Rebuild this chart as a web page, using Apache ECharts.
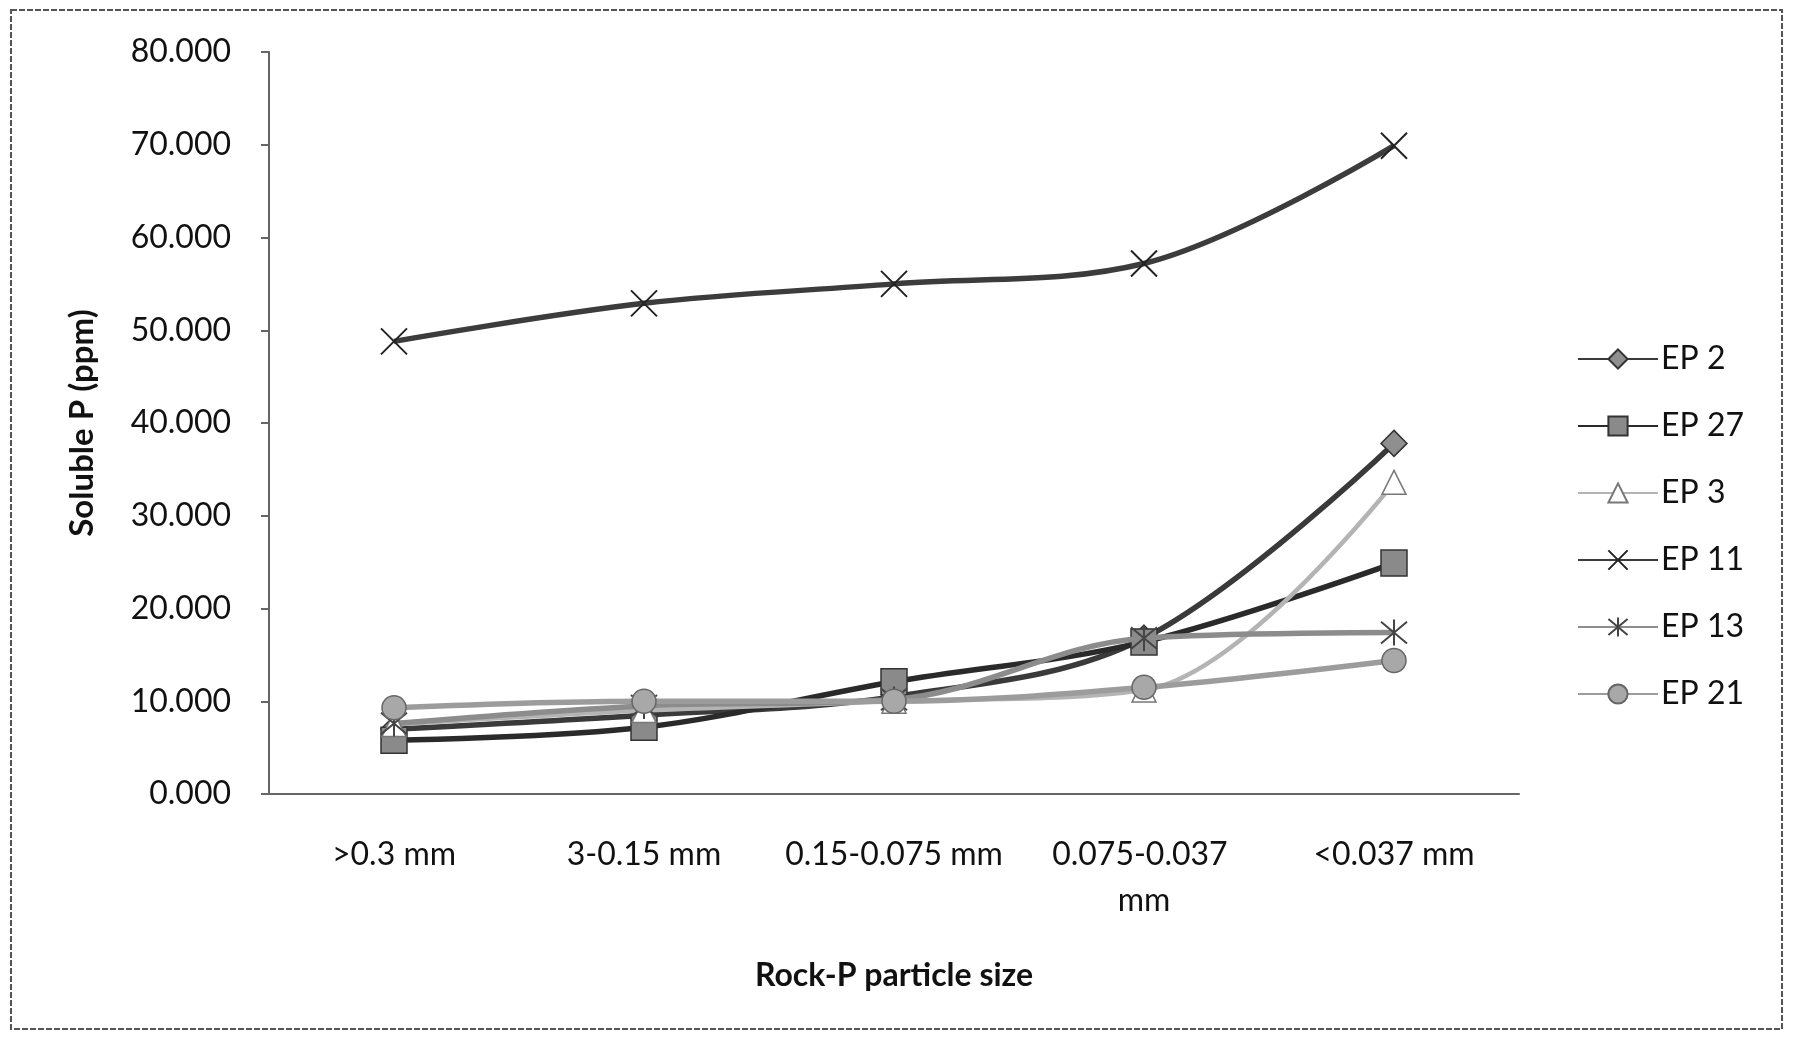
<!DOCTYPE html>
<html>
<head>
<meta charset="utf-8">
<script src="https://cdn.jsdelivr.net/npm/echarts@6/dist/echarts.min.js"></script>
<style>
html,body{margin:0;padding:0;background:#fff;}
#chart{width:1794px;height:1039px;}
</style>
</head>
<body>
<div id="chart"></div>
<script>
const categories = ['>0.3 mm', '3-0.15 mm', '0.15-0.075 mm', '0.075-0.037 mm', '<0.037 mm'];
const seriesNames = ['EP 2', 'EP 27', 'EP 3', 'EP 11', 'EP 13', 'EP 21'];
const ep2  = [7.0, 8.5, 10.5, 16.8, 37.8];
const ep27 = [5.8, 7.2, 12.1, 16.4, 24.9];
const ep3  = [7.5, 9.0, 10.0, 11.2, 33.6];
const ep11 = [48.8, 52.9, 55.0, 57.2, 69.9];
const ep13 = [7.6, 9.5, 10.2, 16.8, 17.4];
const ep21 = [9.3, 10.0, 10.0, 11.5, 14.4];
const yTicks = [0, 10, 20, 30, 40, 50, 60, 70, 80];

const FONT = 'Lato';
const X_PATH = 'path://M0,0L10,10M10,0L0,10';
const AST_PATH = 'path://M0,0L10,10M10,0L0,10M5,-1L5,11';

function mk(name, data, opts) {
  return {
    name: name,
    type: 'line',
    data: data,
    smooth: 0.35,
    symbol: opts.symbol,
    symbolSize: opts.size,
    lineStyle: {color: opts.line, width: opts.width || 5.5},
    itemStyle: {color: opts.fill, borderColor: opts.border, borderWidth: opts.bw || 1.5},
    z: opts.z || 2
  };
}

const chart = echarts.init(document.getElementById('chart'));
chart.setOption({
  animation: false,
  backgroundColor: '#ffffff',
  grid: {left: 269, right: 275, top: 52, bottom: 245},
  xAxis: {
    type: 'category',
    data: categories,
    boundaryGap: true,
    axisLine: {lineStyle: {color: '#666', width: 2}},
    axisTick: {show: false},
    axisLabel: {
      color: '#111', fontFamily: FONT, fontSize: 32, margin: 38,
      width: 232, overflow: 'break', lineHeight: 46, interval: 0
    },
    name: 'Rock-P particle size',
    nameLocation: 'middle',
    nameGap: 166,
    nameTextStyle: {color: '#111', fontFamily: FONT, fontSize: 32, fontWeight: 'bold'}
  },
  yAxis: {
    type: 'value',
    min: yTicks[0],
    max: yTicks[yTicks.length - 1],
    interval: 10,
    splitLine: {show: false},
    axisLine: {show: true, lineStyle: {color: '#666', width: 2}},
    axisTick: {show: true, length: 8, lineStyle: {color: '#666', width: 2}},
    axisLabel: {
      color: '#111', fontFamily: FONT, fontSize: 32, margin: 38,
      formatter: v => v.toFixed(3)
    },
    name: 'Soluble P (ppm)',
    nameLocation: 'middle',
    nameGap: 170,
    nameTextStyle: {color: '#111', fontFamily: FONT, fontSize: 33, fontWeight: 'bold'}
  },
  legend: {
    orient: 'vertical',
    left: 1572,
    top: 338,
    itemWidth: 80,
    itemHeight: 24,
    itemGap: 35,
    textStyle: {color: '#111', fontFamily: FONT, fontSize: 32, lineHeight: 32, padding: [0, 0, 0, -2]},
    data: seriesNames
  },
  graphic: [{
    type: 'rect',
    shape: {x: 11, y: 10, width: 1771, height: 1019},
    style: {fill: 'none', stroke: '#555', lineWidth: 2, lineDash: [6, 2]},
    silent: true
  }],
  series: [
    mk(seriesNames[0], ep2,  {symbol: 'diamond', size: 26, line: '#3a3a3a', fill: '#8f8f8f', border: '#333', z: 3}),
    mk(seriesNames[1], ep27, {symbol: 'rect', size: 26, line: '#2a2a2a', fill: '#8a8a8a', border: '#333', z: 3}),
    mk(seriesNames[2], ep3,  {symbol: 'triangle', size: 24, line: '#b4b4b4', fill: '#ffffff', border: '#777', width: 4.5, z: 4}),
    mk(seriesNames[3], ep11, {symbol: X_PATH, size: 26, line: '#3c3c3c', fill: 'rgba(0,0,0,0)', border: '#222', bw: 2, z: 3}),
    mk(seriesNames[4], ep13, {symbol: AST_PATH, size: 26, line: '#8c8c8c', fill: 'rgba(0,0,0,0)', border: '#444', bw: 2, z: 4}),
    mk(seriesNames[5], ep21, {symbol: 'circle', size: 24, line: '#9c9c9c', fill: '#a8a8a8', border: '#666', z: 5})
  ]
});
</script>
</body>
</html>
